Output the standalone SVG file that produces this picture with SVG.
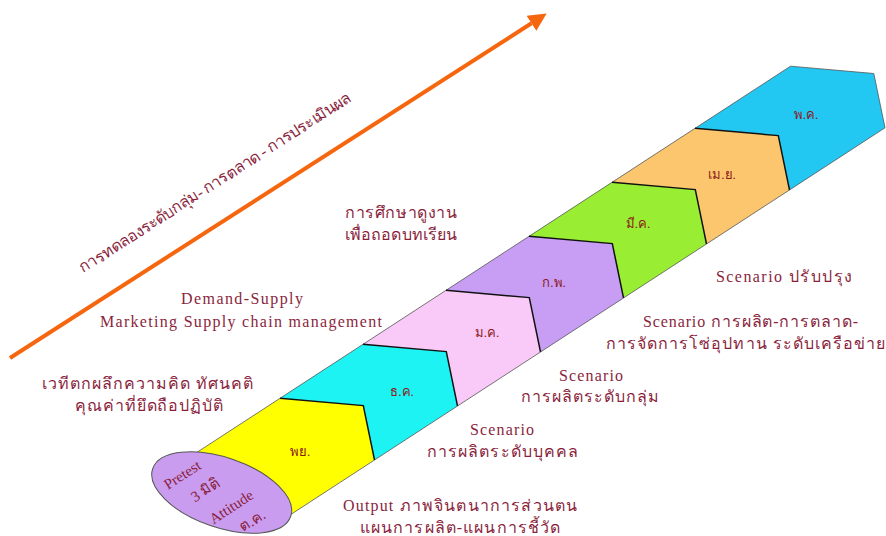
<svg xmlns="http://www.w3.org/2000/svg" width="886" height="536" viewBox="0 0 886 536">
<style>
  .t { font-family: "Liberation Serif", "DejaVu Serif", "Noto Sans", serif; fill: #8a1f3d; font-size: 16px; }
  .lat { font-size: 16px; }
  .el { font-size: 15px; }
  .mo { font-family: "Liberation Serif", "DejaVu Serif", "Noto Sans", serif; fill: #8b1a1a; font-size: 13px; text-anchor: middle; }
  .seg { stroke: none; }
  .sep { fill: none; stroke: #111; stroke-width: 1.5; stroke-linejoin: miter; }
  .edge { fill: none; stroke: #555; stroke-width: 0.8; }
</style>
<defs>
  <marker id="ah" viewBox="0 0 10 10" refX="0" refY="5" markerWidth="22" markerHeight="18" markerUnits="userSpaceOnUse" orient="auto">
    <path d="M0,0 L10,5 L0,10 z" fill="#f5660f"/>
  </marker>
</defs>
<rect width="886" height="536" fill="#ffffff"/>

<g id="connectors">
  <line x1="10" y1="358" x2="531.5" y2="23.2" stroke="#f5660f" stroke-width="4" marker-end="url(#ah)"/>
</g>

<text class="t" x="0" y="0" text-anchor="middle" transform="translate(218,187) rotate(-32.7)" textLength="320" lengthAdjust="spacing">การทดลองระดับกลุ่ม- การตลาด - การประเมินผล</text>

<g id="band">
  <g id="seg-nov"><polygon class="seg" fill="#ffff00" points="190,456.9 280,398.3 363.3,405.6 374.5,459.9 285,518.3"/></g>
  <g id="seg-dec"><polygon class="seg" fill="#1ef3f3" points="280,398.3 363,344.3 446.3,351.6 457.5,405.9 374.5,459.9 363.3,405.6"/></g>
  <g id="seg-jan"><polygon class="seg" fill="#f9c9f7" points="363,344.3 446,290.3 529.3,297.6 540.5,351.9 457.5,405.9 446.3,351.6"/></g>
  <g id="seg-feb"><polygon class="seg" fill="#c89ef5" points="446,290.3 529,236.3 612.3,243.6 623.5,297.9 540.5,351.9 529.3,297.6"/></g>
  <g id="seg-mar"><polygon class="seg" fill="#99ee33" points="529,236.3 612,182.3 695.3,189.6 706.5,243.9 623.5,297.9 612.3,243.6"/></g>
  <g id="seg-apr"><polygon class="seg" fill="#fbc66e" points="612,182.3 695,128.3 778.3,135.6 789.5,189.9 706.5,243.9 695.3,189.6"/></g>
  <g id="seg-may"><polygon class="seg" fill="#22c7f2" points="695,128.3 790.5,66.2 873.8,73.5 885,127.8 789.5,189.9 778.3,135.6"/></g>
  <polyline class="edge" points="197,452.3 790.5,66.2 873.8,73.5 885,127.8 290,515"/>
  <polyline class="sep" points="280,398.3 363.3,405.6 374.5,459.9"/>
  <polyline class="sep" points="363,344.3 446.3,351.6 457.5,405.9"/>
  <polyline class="sep" points="446,290.3 529.3,297.6 540.5,351.9"/>
  <polyline class="sep" points="529,236.3 612.3,243.6 623.5,297.9"/>
  <polyline class="sep" points="612,182.3 695.3,189.6 706.5,243.9"/>
  <polyline class="sep" points="695,128.3 778.3,135.6 789.5,189.9"/>
  <text class="mo" x="300" y="456">พย.</text>
  <text class="mo" x="402" y="396">ธ.ค.</text>
  <text class="mo" x="487" y="337">ม.ค.</text>
  <text class="mo" x="554" y="287">ก.พ.</text>
  <text class="mo" x="638" y="228">มี.ค.</text>
  <text class="mo" x="722" y="179">เม.ย.</text>
  <text class="mo" x="806" y="119">พ.ค.</text>
</g>

<g id="pretest">
  <ellipse cx="221.7" cy="492.5" rx="73" ry="35" transform="rotate(19 221.7 492.5)" fill="#c99cf0" stroke="#555" stroke-width="1"/>
  <text class="t el" text-anchor="middle" transform="translate(185,479) rotate(-33)">Pretest</text>
  <text class="t el" text-anchor="middle" transform="translate(208,494) rotate(-33)">3 มิติ</text>
  <text class="t el" text-anchor="middle" transform="translate(234,511) rotate(-33)">Attitude</text>
  <text class="t el" text-anchor="middle" transform="translate(255,525) rotate(-33)">ต.ค.</text>
</g>

<g id="label-study">
  <text class="t" x="345" y="218" textLength="112" lengthAdjust="spacing">การศึกษาดูงาน</text>
  <text class="t" x="345" y="240" textLength="112" lengthAdjust="spacing">เพื่อถอดบทเรียน</text>
</g>
<g id="label-demand">
  <text class="t lat" x="181" y="304" textLength="122" lengthAdjust="spacing">Demand-Supply</text>
  <text class="t lat" x="100" y="327" textLength="282" lengthAdjust="spacing">Marketing Supply chain management</text>
</g>
<g id="label-forum">
  <text class="t" x="42" y="389" textLength="211" lengthAdjust="spacing">เวทีตกผลึกความคิด ทัศนคติ</text>
  <text class="t" x="75" y="411" textLength="148" lengthAdjust="spacing">คุณค่าที่ยึดถือปฏิบัติ</text>
</g>
<g id="label-individual">
  <text class="t lat" x="470" y="435" textLength="64" lengthAdjust="spacing">Scenario</text>
  <text class="t" x="427" y="457" textLength="151" lengthAdjust="spacing">การผลิตระดับบุคคล</text>
</g>
<g id="label-output">
  <text class="t" x="343" y="511" textLength="234" lengthAdjust="spacing">Output ภาพจินตนาการส่วนตน</text>
  <text class="t" x="360" y="533" textLength="200" lengthAdjust="spacing">แผนการผลิต-แผนการชี้วัด</text>
</g>
<g id="label-group">
  <text class="t lat" x="559" y="381" textLength="64" lengthAdjust="spacing">Scenario</text>
  <text class="t" x="521" y="402" textLength="138" lengthAdjust="spacing">การผลิตระดับกลุ่ม</text>
</g>
<g id="label-network">
  <text class="t" x="643" y="327" textLength="215" lengthAdjust="spacing">Scenario การผลิต-การตลาด-</text>
  <text class="t" x="606" y="349" textLength="279" lengthAdjust="spacing">การจัดการโซ่อุปทาน ระดับเครือข่าย</text>
</g>
<g id="label-improve">
  <text class="t" x="716" y="282" textLength="136" lengthAdjust="spacing">Scenario ปรับปรุง</text>
</g>
</svg>
